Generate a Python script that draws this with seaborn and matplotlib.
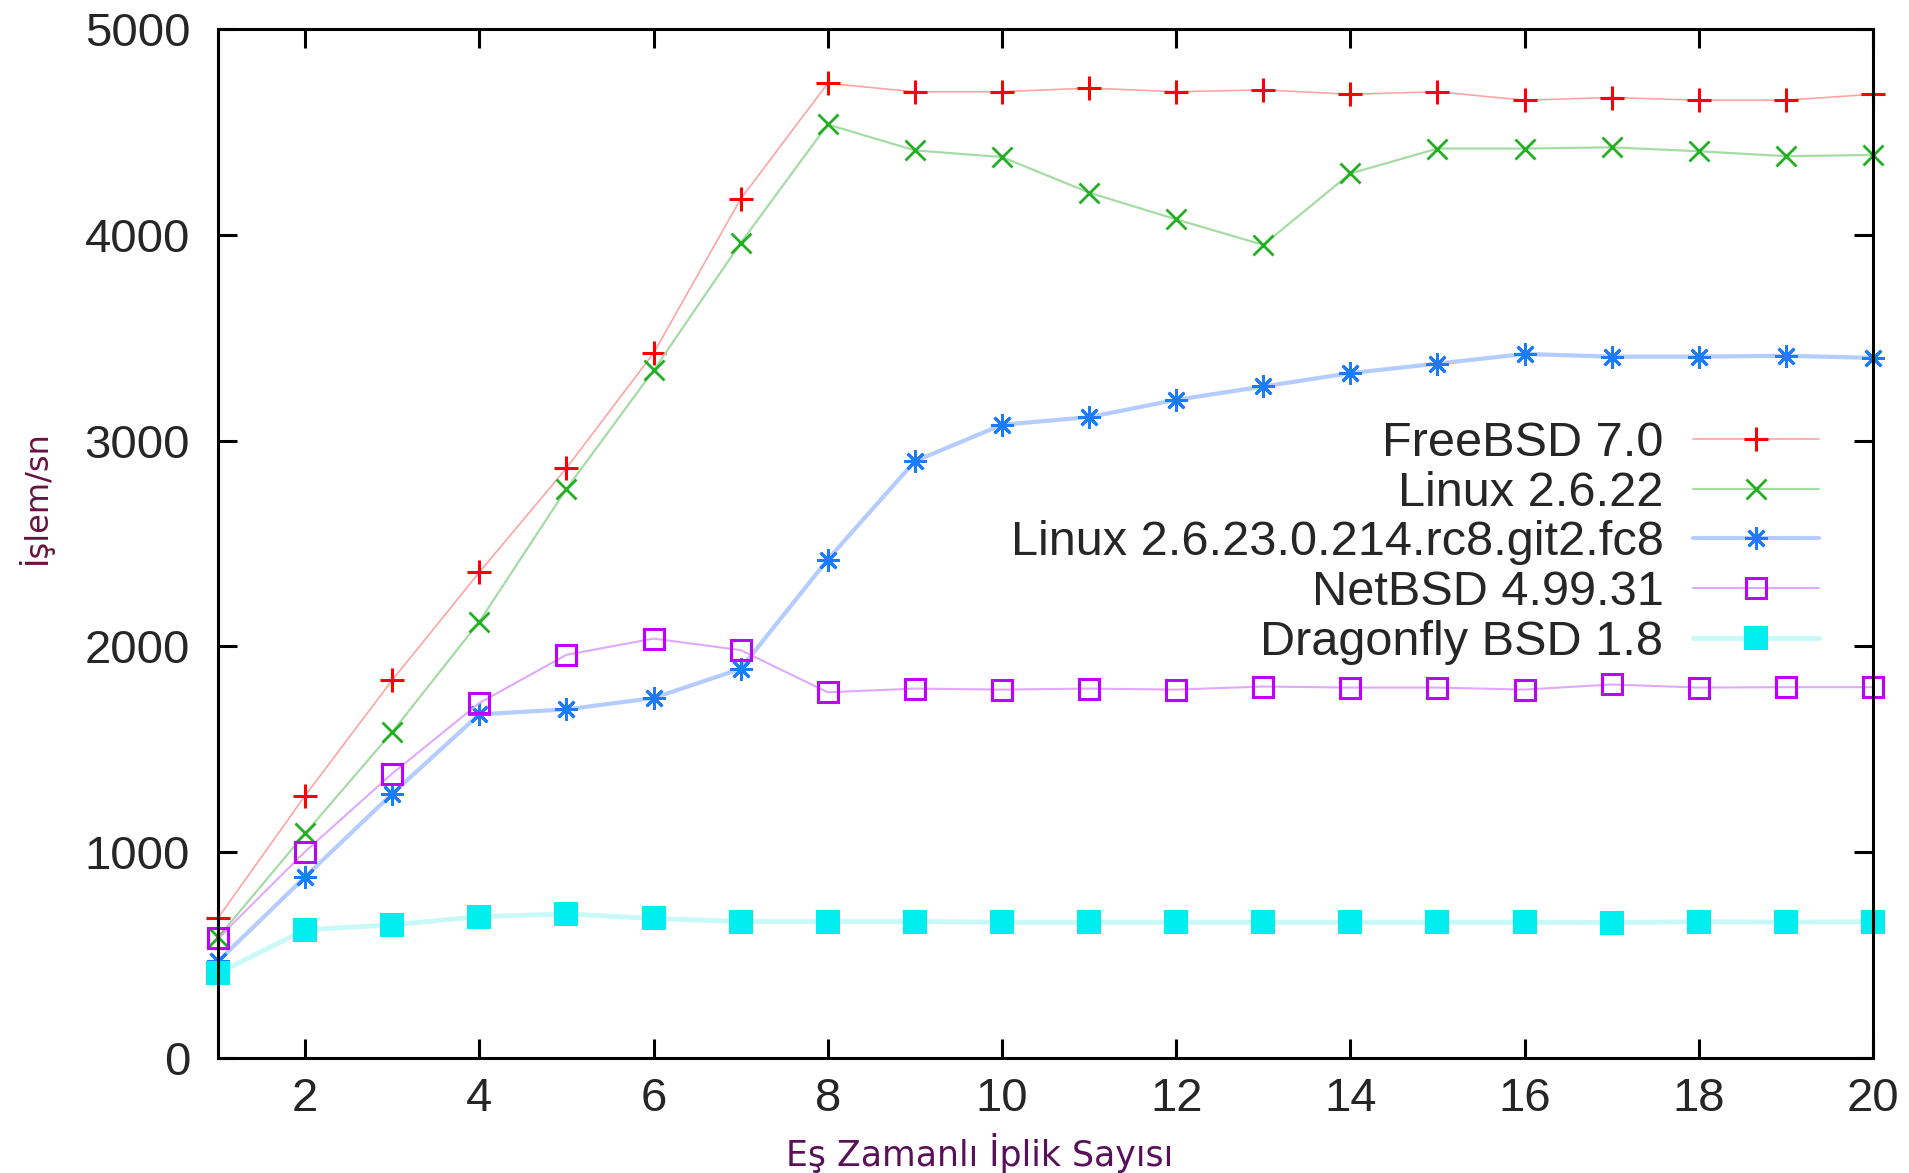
import matplotlib
matplotlib.use("Agg")
import matplotlib.pyplot as plt
import seaborn as sns
import pandas as pd

threads = list(range(1, 21))
freebsd = [680, 1275, 1836, 2360, 2866, 3425, 4174, 4736, 4695, 4695, 4713, 4695, 4704, 4683, 4695, 4654, 4667, 4654, 4654, 4683]
linux22 = [586, 1091, 1584, 2120, 2765, 3341, 3960, 4536, 4410, 4378, 4205, 4075, 3951, 4298, 4419, 4419, 4425, 4406, 4382, 4388]
linux23 = [470, 880, 1284, 1670, 1694, 1749, 1891, 2422, 2900, 3077, 3114, 3198, 3263, 3328, 3374, 3421, 3408, 3408, 3412, 3402]
netbsd = [581, 1003, 1382, 1725, 1959, 2038, 1982, 1777, 1795, 1790, 1795, 1790, 1805, 1800, 1800, 1790, 1815, 1800, 1802, 1802]
dragonfly = [412, 623, 647, 687, 700, 678, 663, 663, 663, 660, 660, 660, 660, 660, 660, 660, 658, 662, 660, 662]

labels = ["FreeBSD 7.0", "Linux 2.6.22", "Linux 2.6.23.0.214.rc8.git2.fc8", "NetBSD 4.99.31", "Dragonfly BSD 1.8"]
x_ticks = [2, 4, 6, 8, 10, 12, 14, 16, 18, 20]
y_ticks = [0, 1000, 2000, 3000, 4000, 5000]
x_label = "Eş Zamanlı İplik Sayısı"
y_label = "İşlem/sn"

sns.set_style("ticks")
plt.rcParams["font.family"] = ["Liberation Sans", "DejaVu Sans"]

series = [freebsd, linux22, linux23, netbsd, dragonfly]
styles = [
    dict(color="#ffa4a4", lw=1.2, marker="+", markersize=17, markeredgewidth=2.2,
         markeredgecolor="#ff0000", markerfacecolor="#ff0000"),
    dict(color="#a4dca4", lw=1.6, marker="x", markersize=14, markeredgewidth=2.0,
         markeredgecolor="#22b022", markerfacecolor="#22b022"),
    dict(color="#b4ccff", lw=3.0, marker=(8, 2, 0), markersize=16, markeredgewidth=2.0,
         markeredgecolor="#1a7cff", markerfacecolor="#1a7cff"),
    dict(color="#e0a8ff", lw=1.5, marker="s", markersize=15, markeredgewidth=2.2,
         markeredgecolor="#c000ff", markerfacecolor="none"),
    dict(color="#c8f8f8", lw=3.5, marker="s", markersize=17, markeredgewidth=0,
         markeredgecolor="#00eeee", markerfacecolor="#00eeee"),
]

fig = plt.figure(figsize=(19.09, 11.73), dpi=100)
ax = fig.add_axes([218 / 1909, 1 - 1058 / 1173, 1655 / 1909, 1029 / 1173])

for lab, vals, st in zip(labels, series, styles):
    df = pd.DataFrame({"threads": threads, "value": vals})
    sns.lineplot(data=df, x="threads", y="value", ax=ax, label=lab, clip_on=False, **st)

ax.set_xlim(1, 20)
ax.set_ylim(0, 5000)
ax.set_xticks(x_ticks)
ax.set_yticks(y_ticks)
ax.set_xticklabels([str(t) for t in x_ticks])
ax.set_yticklabels([str(t) for t in y_ticks])

for side in ["left", "right", "top", "bottom"]:
    ax.spines[side].set_visible(True)
    ax.spines[side].set_linewidth(2.2)
    ax.spines[side].set_color("black")

ax.tick_params(axis="both", which="major", direction="in", length=14, width=2.2,
               top=True, right=True, labelsize=34, labelcolor="#262626", color="black")
ax.tick_params(axis="y", pad=20)
ax.tick_params(axis="x", pad=14)

ax.set_xlabel(x_label, fontsize=25, color="#5a0f5a", family=["DejaVu Sans"])
ax.set_ylabel(y_label, fontsize=23, color="#6a1040", family=["DejaVu Sans"])
ax.xaxis.set_label_coords(0.46, -0.073)
ax.yaxis.set_label_coords(-0.100, 0.545)

leg = ax.legend(loc="center right", bbox_to_anchor=(0.9674, 0.5005), frameon=False,
                markerfirst=False, fontsize=35, handlelength=2.6, handletextpad=0.6,
                labelspacing=0.1, borderpad=0, borderaxespad=0)
for t in leg.get_texts():
    t.set_color("#262626")

fig.savefig("out.png", dpi=100, facecolor="white")
